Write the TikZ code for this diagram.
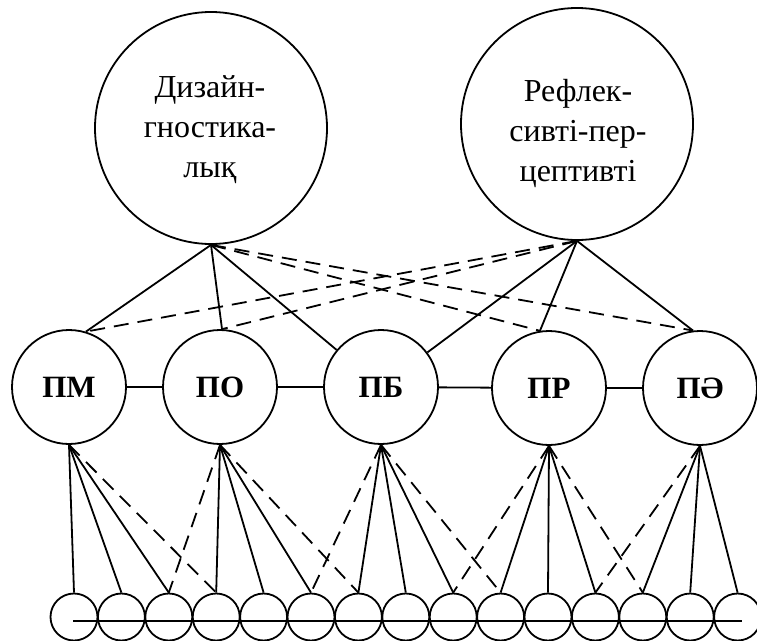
\documentclass[tikz,border=0pt]{standalone}
\usepackage{fontspec}
\setmainfont{Liberation Serif}
\begin{document}
\begin{tikzpicture}[x=1pt,y=-1pt,line width=1.8pt,
  big/.style={circle,draw,minimum size=232pt,inner sep=0pt},
  bigtext/.style={align=center,inner sep=0pt,font=\fontsize{32}{40}\selectfont},
  mid/.style={circle,draw,fill=white,minimum size=114pt,inner sep=0pt,font=\fontsize{31}{36}\selectfont\bfseries},
  sm/.style={circle,draw,minimum size=47pt,inner sep=0pt},
  dsh/.style={dash pattern=on 15pt off 9pt},
]
\clip (0,0) rectangle (757,640);
% big circles
\node[big] (dg) at (211,128) {};
\node[bigtext] (dgt) at (210,130) {Дизайн-\\гностика-\\лық};
\node[big] (rp) at (577,124) {};
\node[bigtext] (rpt) at (578,133) {Рефлек-\\сивті-пер-\\цептивті};
% middle circles
\node[mid] (pm) at (69,387) {ПМ};
\node[mid] (po) at (220,387) {ПО};
\node[mid] (pb) at (381,387) {ПБ};
\node[mid] (pr) at (549,388) {ПР};
\node[mid] (pa) at (700,388) {ПӘ};
% horizontal links
\draw (pm) -- (po);
\draw (po) -- (pb);
\draw (pb) -- (pr);
\draw (pr) -- (pa);
% top connectors
\draw (dg.south) -- (pm.73);
\draw (dg.south) -- (po.88);
\draw (dg.south) -- (pb);
\draw[dsh] (dg.south) -- (pr.99);
\draw[dsh] (dg.south) -- (pa.97);
\draw[dsh] (rp.south) -- (pm.73);
\draw[dsh] (rp.south) -- (po.88);
\draw (rp.south) -- (pb);
\draw (rp.south) -- (pr.99);
\draw (rp.south) -- (pa.97);
% small circles
\foreach \i in {1,...,15} {
  \node[sm] (s\i) at ({74+47.4*(\i-1)},617) {};
}
\coordinate (hl) at (73,621);
\coordinate (hr) at (742,621);
\draw (hl) -- (hr);
% bottom connectors
\foreach \i in {1,2,3} \draw (pm.south) -- (s\i.north);
\draw[dsh] (pm.south) -- (s4.north);
\draw[dsh] (po.south) -- (s3.north);
\foreach \i in {4,5,6} \draw (po.south) -- (s\i.north);
\draw[dsh] (po.south) -- (s7.north);
\draw[dsh] (pb.south) -- (s6.north);
\foreach \i in {7,8,9} \draw (pb.south) -- (s\i.north);
\draw[dsh] (pb.south) -- (s10.north);
\draw[dsh] (pr.south) -- (s9.north);
\foreach \i in {10,11,12} \draw (pr.south) -- (s\i.north);
\draw[dsh] (pr.south) -- (s13.north);
\draw[dsh] (pa.south) -- (s12.north);
\foreach \i in {13,14,15} \draw (pa.south) -- (s\i.north);
\end{tikzpicture}
\end{document}
